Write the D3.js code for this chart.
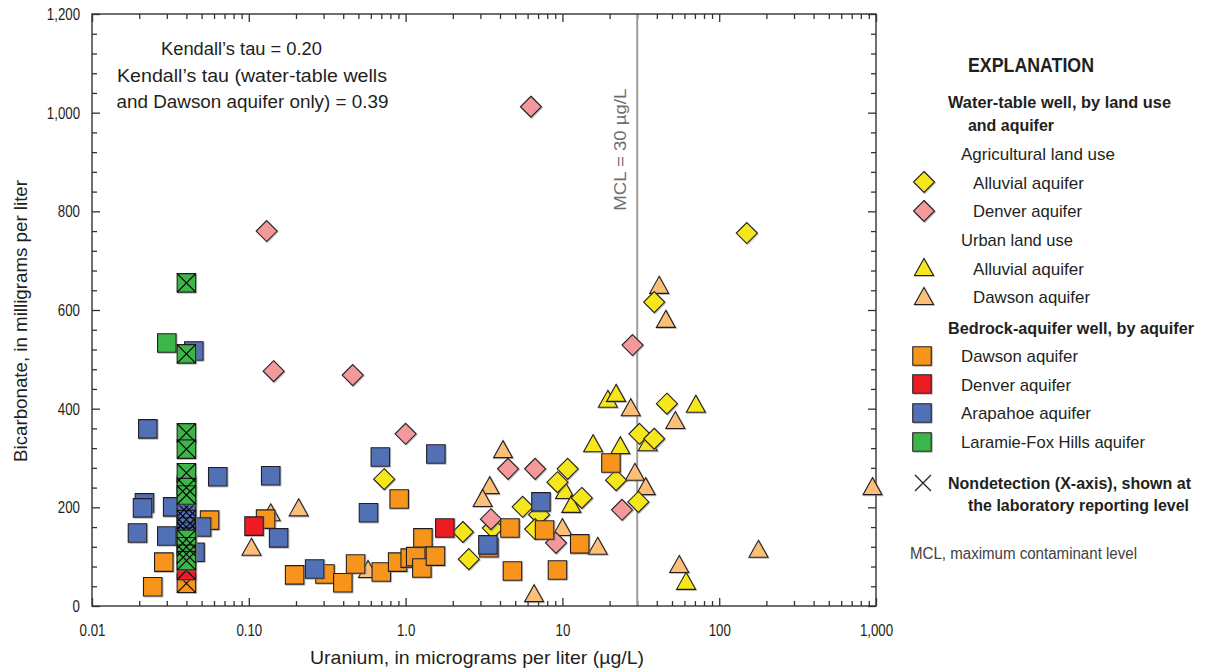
<!DOCTYPE html>
<html>
<head>
<meta charset="utf-8">
<script src="https://cdn.jsdelivr.net/npm/d3@7"></script>
<style>
  html, body { margin: 0; padding: 0; background: #fff; }
  svg { display: block; }
  text { font-family: "Liberation Sans", Arial, "Noto Sans", sans-serif; fill: #231f20; }
  .bold { font-weight: bold; }
</style>
</head>
<body>
<svg id="chart" width="1206" height="672"></svg>
<script>
// Uranium (µg/L) vs bicarbonate (mg/L), one [uranium, bicarbonate] pair per well.

// Water-table wells, agricultural land use
const agAlluvial = [[0.73,257],[2.32,150],[2.53,95],[3.6,158],[5.58,201],[7.1,185],[6.7,156],[10.8,278],[9.3,251],[13.3,219],[22,255],[30.5,211],[31,349],[38.5,339],[46.4,410],[38.5,616],[150,756]];
const agDenver = [[6.3,1012],[0.13,760],[0.144,476],[0.46,468],[1.0,349],[4.5,278],[6.7,278],[3.5,176],[9.1,128],[28,529],[24,195],[1.25,107]];

// Water-table wells, urban land use
const urbAlluvial = [[19.5,420],[22,432],[15.7,330],[23.4,326],[35,332],[71,410],[10.4,235],[11.4,207],[61.5,51]];
const urbDawson = [[41.4,651],[45.7,582],[27.3,403],[52.5,377],[29,272],[34,243],[16.8,122],[55.6,85],[178,116],[950,243],[10,160],[6.6,26],[4.18,318],[3.44,245],[3.1,219],[0.576,75],[0.208,200],[0.104,120],[0.138,190]];

// Bedrock-aquifer wells (detections)
const bedDawson = [[0.0562,174],[0.0287,89],[0.0244,39],[0.128,176],[0.196,63],[0.306,65],[0.398,47],[0.48,85],[0.70,69],[0.89,89],[1.07,97],[1.16,100],[1.29,138],[1.27,77],[1.55,101],[0.91,217],[3.4,118],[4.63,158],[4.8,71],[7.7,154],[9.3,73],[12.9,126],[20.4,290]];
const bedDenver = [[0.108,162],[1.78,158]];
const bedArapahoe = [[0.0227,359],[0.0216,209],[0.021,199],[0.0327,201],[0.050,160],[0.0195,148],[0.030,142],[0.0454,109],[0.0634,262],[0.0446,517],[0.138,264],[0.155,138],[0.263,75],[0.58,189],[0.69,302],[1.56,308],[3.35,124],[7.3,211]];
const bedLaramie = [[0.03,533]];

// Bedrock-aquifer nondetections, plotted at the laboratory reporting level
const reportingLevel = 0.04;
const ndDawson = [46];
const ndDenver = [72];
const ndArapahoe = [245,200,190,175,160,150,140,125];
const ndLaramie = [655,511,351,318,270,240,225,135,120,105,92];

const mcl = 30;

// Axis ticks and labels
const xMajorTicks = [0.01, 0.1, 1, 10, 100, 1000];
const xTickLabels = ["0.01", "0.10", "1.0", "10", "100", "1,000"];
const yMajorTicks = [0, 200, 400, 600, 800, 1000, 1200];
const yTickLabels = ["0", "200", "400", "600", "800", "1,000", "1,200"];

const colors = {
  yellow: "#f5e71b", pink: "#f4999b", tan: "#fbbf79",
  orange: "#f7941f", red: "#ed1c24", blue: "#5170b6", green: "#3cb54a"
};

const svg = d3.select("#chart");

// soft grey edge under the markers
svg.append("defs").append("filter").attr("id", "shade")
  .attr("x", "-20%").attr("y", "-20%").attr("width", "150%").attr("height", "150%")
  .append("feDropShadow").attr("dx", 0.8).attr("dy", 0.8).attr("stdDeviation", 0.5)
  .attr("flood-color", "#777").attr("flood-opacity", 0.6);

// squeeze a text to a narrow, condensed width
function condense(sel, width, factor) {
  sel.each(function () {
    const n = this;
    const w = width != null ? width : n.getComputedTextLength() * (factor || 0.8);
    d3.select(n).attr("textLength", w).attr("lengthAdjust", "spacingAndGlyphs");
  });
}

const margin = { left: 92, right: 876, top: 14, bottom: 606 };
const x = d3.scaleLog().domain([0.01, 1000]).range([margin.left, margin.right]);
const y = d3.scaleLinear().domain([0, 1200]).range([margin.bottom, margin.top]);

// minor ticks
const xMinor = [];
for (let e = -2; e < 3; e++) for (let m = 2; m <= 9; m++) xMinor.push(m * Math.pow(10, e));
const yMinor = d3.range(0, 1201, 40).filter(v => v % 200 !== 0);

const axisColor = "#333";
function styleAxis(g) {
  g.select(".domain").remove();
  g.selectAll(".tick line").attr("stroke", axisColor).attr("stroke-width", 1.3);
  g.selectAll(".tick text").style("font-size", "17px").attr("fill", "#231f20")
    .style("font-family", "\"Liberation Sans\", Arial, sans-serif");
}

// bottom
svg.append("g").attr("transform", `translate(0,${margin.bottom})`)
  .call(d3.axisBottom(x).tickValues(xMinor).tickSize(-5).tickFormat(""))
  .call(styleAxis);
svg.append("g").attr("transform", `translate(0,${margin.bottom})`)
  .call(d3.axisBottom(x).tickValues(xMajorTicks).tickSize(-8).tickPadding(18)
    .tickFormat((d, i) => xTickLabels[i]))
  .call(styleAxis)
  .call(g => condense(g.selectAll(".tick text"), null, 0.78));
// top
svg.append("g").attr("transform", `translate(0,${margin.top})`)
  .call(d3.axisTop(x).tickValues(xMinor).tickSize(-5).tickFormat(""))
  .call(styleAxis);
svg.append("g").attr("transform", `translate(0,${margin.top})`)
  .call(d3.axisTop(x).tickValues(xMajorTicks).tickSize(-8).tickFormat(""))
  .call(styleAxis);
// left
svg.append("g").attr("transform", `translate(${margin.left},0)`)
  .call(d3.axisLeft(y).tickValues(yMinor).tickSize(-5).tickFormat(""))
  .call(styleAxis);
svg.append("g").attr("transform", `translate(${margin.left},0)`)
  .call(d3.axisLeft(y).tickValues(yMajorTicks).tickSize(-8).tickPadding(12)
    .tickFormat((d, i) => yTickLabels[i]))
  .call(styleAxis)
  .call(g => condense(g.selectAll(".tick text"), null, 0.78));
// right
svg.append("g").attr("transform", `translate(${margin.right},0)`)
  .call(d3.axisRight(y).tickValues(yMinor).tickSize(-5).tickFormat(""))
  .call(styleAxis);
svg.append("g").attr("transform", `translate(${margin.right},0)`)
  .call(d3.axisRight(y).tickValues(yMajorTicks).tickSize(-8).tickFormat(""))
  .call(styleAxis);

// MCL reference line
svg.append("line")
  .attr("x1", x(mcl)).attr("x2", x(mcl))
  .attr("y1", margin.top).attr("y2", margin.bottom)
  .attr("stroke", "#9d9d9d").attr("stroke-width", 2);
svg.append("text")
  .attr("transform", `translate(${x(mcl) - 11},${y(925)}) rotate(-90)`)
  .attr("text-anchor", "middle")
  .style("font-size", "17px").style("fill", "#6d6e71")
  .text("MCL = 30 µg/L")
  .call(condense, 122);

// frame
svg.append("rect")
  .attr("x", margin.left).attr("y", margin.top)
  .attr("width", margin.right - margin.left).attr("height", margin.bottom - margin.top)
  .attr("fill", "none").attr("stroke", axisColor).attr("stroke-width", 1.4);

// marker shapes
const SQ = 18.5, DI = 10.5, TW = 19, TH = 17;
const shapes = {
  square: `M${-SQ/2},${-SQ/2}h${SQ}v${SQ}h${-SQ}Z`,
  diamond: `M0,${-DI}L${DI},0L0,${DI}L${-DI},0Z`,
  triangle: `M0,${-TH/2}L${TW/2},${TH/2}L${-TW/2},${TH/2}Z`
};
const crossPath = `M${-SQ/2},${-SQ/2}L${SQ/2},${SQ/2}M${SQ/2},${-SQ/2}L${-SQ/2},${SQ/2}`;

const marks = svg.append("g");
function drawSeries(data, shape, color, nondetect) {
  const g = marks.append("g");
  g.selectAll("path.mk").data(data).join("path")
    .attr("class", "mk")
    .attr("transform", d => `translate(${x(d[0])},${y(d[1])})`)
    .attr("d", shapes[shape])
    .attr("fill", color).attr("stroke", "#231f20").attr("stroke-width", 1.1)
    .attr("filter", "url(#shade)");
  if (nondetect) {
    g.selectAll("path.nd").data(data).join("path")
      .attr("class", "nd")
      .attr("transform", d => `translate(${x(d[0])},${y(d[1])})`)
      .attr("d", crossPath)
      .attr("fill", "none").attr("stroke", "#000").attr("stroke-width", 1.1);
  }
}
const atRL = arr => arr.map(v => [reportingLevel, v]);

drawSeries(urbDawson, "triangle", colors.tan);
drawSeries(urbAlluvial, "triangle", colors.yellow);
drawSeries(agAlluvial, "diamond", colors.yellow);
drawSeries(agDenver, "diamond", colors.pink);
drawSeries(bedDawson, "square", colors.orange);
drawSeries(bedDenver, "square", colors.red);
drawSeries(bedArapahoe, "square", colors.blue);
drawSeries(bedLaramie, "square", colors.green);
drawSeries(atRL(ndDawson), "square", colors.orange, true);
drawSeries(atRL(ndDenver), "square", colors.red, true);
drawSeries(atRL(ndArapahoe), "square", colors.blue, true);
drawSeries(atRL(ndLaramie), "square", colors.green, true);

// Kendall's tau annotation
const note = svg.append("g").style("font-size", "17.5px");
[["Kendall’s tau = 0.20", 241.5, 55, 161], ["Kendall’s tau (water-table wells", 252, 82, 270], ["and Dawson aquifer only) = 0.39", 252.5, 108, 272]]
  .forEach(([t, cx, cy, w]) => note.append("text").attr("x", cx).attr("y", cy)
    .attr("text-anchor", "middle").text(t).call(condense, w));

// axis titles
svg.append("text").attr("x", 477).attr("y", 664).attr("text-anchor", "middle")
  .style("font-size", "18.5px").text("Uranium, in micrograms per liter (µg/L)").call(condense, 334);
svg.append("text").attr("transform", "translate(27,321) rotate(-90)").attr("text-anchor", "middle")
  .style("font-size", "18.5px").text("Bicarbonate, in milligrams per liter").call(condense, 282);

// explanation
const leg = svg.append("g");
const legText = (t, lx, ly, w, bold, size) => leg.append("text").attr("x", lx).attr("y", ly)
  .attr("class", bold ? "bold" : null).style("font-size", (size || 17) + "px").text(t).call(condense, w);
legText("EXPLANATION", 968, 72, 126, true, 19.5);
legText("Water-table well, by land use", 948, 108, 223, true);
legText("and aquifer", 968, 131, 86, true);
legText("Agricultural land use", 961, 160, 154);
legText("Alluvial aquifer", 973, 189, 111);
legText("Denver aquifer", 973, 217, 109);
legText("Urban land use", 961, 246, 112);
legText("Alluvial aquifer", 973, 275, 111);
legText("Dawson aquifer", 973, 303, 117);
legText("Bedrock-aquifer well, by aquifer", 948, 334, 246, true);
legText("Dawson aquifer", 961, 362, 117);
legText("Denver aquifer", 961, 391, 110);
legText("Arapahoe aquifer", 961, 419, 130);
legText("Laramie-Fox Hills aquifer", 961, 448, 184);
legText("Nondetection (X-axis), shown at", 948, 489, 243, true);
legText("the laboratory reporting level", 968, 511, 221, true);
leg.append("text").attr("x", 910).attr("y", 559).style("font-size", "16px").style("fill", "#414042")
  .text("MCL, maximum contaminant level").call(condense, 227);

const legMark = (shape, color, lx, ly) => leg.append("path")
  .attr("transform", `translate(${lx},${ly})`).attr("d", shapes[shape])
  .attr("fill", color).attr("stroke", "#231f20").attr("stroke-width", 1.1)
  .attr("filter", "url(#shade)");
legMark("diamond", colors.yellow, 924, 182);
legMark("diamond", colors.pink, 924, 211);
legMark("triangle", colors.yellow, 924, 267);
legMark("triangle", colors.tan, 924, 296);
legMark("square", colors.orange, 922, 356);
legMark("square", colors.red, 922, 384);
legMark("square", colors.blue, 922, 413);
legMark("square", colors.green, 922, 442);
leg.append("path").attr("transform", "translate(923,483)")
  .attr("d", "M-8,-8L8,8M8,-8L-8,8").attr("stroke", "#231f20").attr("stroke-width", 1.2).attr("fill", "none");
</script>
</body>
</html>
